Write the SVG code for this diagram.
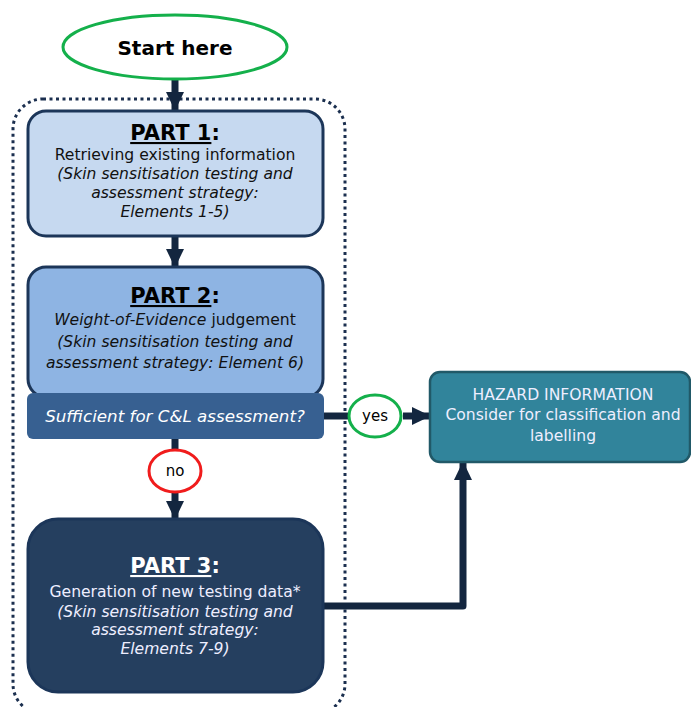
<svg xmlns="http://www.w3.org/2000/svg" width="691" height="707" viewBox="0 0 691 707">
<defs>
<style>
.t{font-family:"DejaVu Sans",Verdana,sans-serif;text-anchor:middle;}
.h{font-size:21px;font-weight:bold;}
.b{font-size:15.6px;}
.i{font-style:italic;}
.conn{stroke:#13263f;stroke-width:7;fill:none;}
</style>
<marker id="ah" markerWidth="3" markerHeight="3" refX="2.6" refY="1.5" orient="auto" markerUnits="strokeWidth" viewBox="0 0 3 3">
<path d="M0,0.2 L2.7,1.5 L0,2.8 Z" fill="#13263f"/>
</marker>
</defs>
<rect x="13" y="99" width="332" height="615" rx="30" fill="none" stroke="#1b2f4f" stroke-width="3" stroke-dasharray="3,3.5"/>
<g id="connectors">
<line class="conn" x1="175" y1="80" x2="175" y2="110" marker-end="url(#ah)"/>
<line class="conn" x1="175" y1="236" x2="175" y2="267" marker-end="url(#ah)"/>
<line class="conn" x1="175" y1="439" x2="175" y2="450"/>
<line class="conn" x1="175" y1="493" x2="175" y2="519" marker-end="url(#ah)"/>
<line class="conn" x1="323" y1="416" x2="349" y2="416"/>
<line class="conn" x1="403" y1="416" x2="430" y2="416" marker-end="url(#ah)"/>
<polyline class="conn" points="323,606 463,606 463,462" stroke-linejoin="round" marker-end="url(#ah)"/>
</g>
<g id="start">
<ellipse cx="175" cy="47" rx="112" ry="32" fill="#fff" stroke="#14b04b" stroke-width="3"/>
<text class="t" x="175" y="55" font-size="20" font-weight="bold" fill="#000">Start here</text>
</g>
<g id="part1">
<rect x="28" y="111" width="295" height="125" rx="18" fill="#c6d9f0" stroke="#1c3659" stroke-width="3"/>
<text class="t h" x="175" y="140" fill="#000"><tspan text-decoration="underline">PART 1</tspan>:</text>
<text class="t b" x="175" y="160" fill="#111">Retrieving existing information</text>
<text class="t b i" x="175" y="179" fill="#111">(Skin sensitisation testing and</text>
<text class="t b i" x="175" y="198" fill="#111">assessment strategy:</text>
<text class="t b i" x="175" y="217" fill="#111">Elements 1-5)</text>
</g>
<g id="part2">
<rect x="28" y="267" width="295" height="130" rx="18" fill="#8eb4e3" stroke="#1c3659" stroke-width="3"/>
<text class="t h" x="175" y="303" fill="#000"><tspan text-decoration="underline">PART 2</tspan>:</text>
<text class="t b" x="175" y="325" fill="#111"><tspan class="i">Weight-of-Evidence</tspan> judgement</text>
<text class="t b i" x="175" y="347" fill="#111">(Skin sensitisation testing and</text>
<text class="t b i" x="175" y="368" fill="#111">assessment strategy: Element 6)</text>
</g>
<g id="decision">
<rect x="27" y="393" width="297" height="46" rx="6" fill="#376091"/>
<text class="t i" x="175" y="422" font-size="16.7" fill="#fff">Sufficient for C&amp;L assessment?</text>
</g>
<g id="no">
<ellipse cx="175" cy="471" rx="26" ry="21" fill="#fff" stroke="#f01c1c" stroke-width="3"/>
<text class="t" x="175" y="476" font-size="15" fill="#000">no</text>
</g>
<g id="yes">
<ellipse cx="375" cy="416" rx="26" ry="21" fill="#fff" stroke="#14b04b" stroke-width="3"/>
<text class="t" x="375" y="421" font-size="15" fill="#000">yes</text>
</g>
<g id="part3">
<rect x="28" y="519" width="295" height="173" rx="30" fill="#253f5f" stroke="#1c3659" stroke-width="3"/>
<text class="t h" x="175" y="573" fill="#fff"><tspan text-decoration="underline">PART 3</tspan>:</text>
<text class="t b" x="175" y="597" fill="#eef">Generation of new testing data*</text>
<text class="t b i" x="175" y="617" fill="#eef">(Skin sensitisation testing and</text>
<text class="t b i" x="175" y="635" fill="#eef">assessment strategy:</text>
<text class="t b i" x="175" y="654" fill="#eef">Elements 7-9)</text>
</g>
<g id="hazard">
<rect x="430" y="372" width="260" height="90" rx="10" fill="#31849b" stroke="#215968" stroke-width="2.5"/>
<text class="t b" x="563" y="400" fill="#eef">HAZARD INFORMATION</text>
<text class="t b" x="563" y="420" fill="#eef">Consider for classification and</text>
<text class="t b" x="563" y="441" fill="#eef">labelling</text>
</g>
</svg>
